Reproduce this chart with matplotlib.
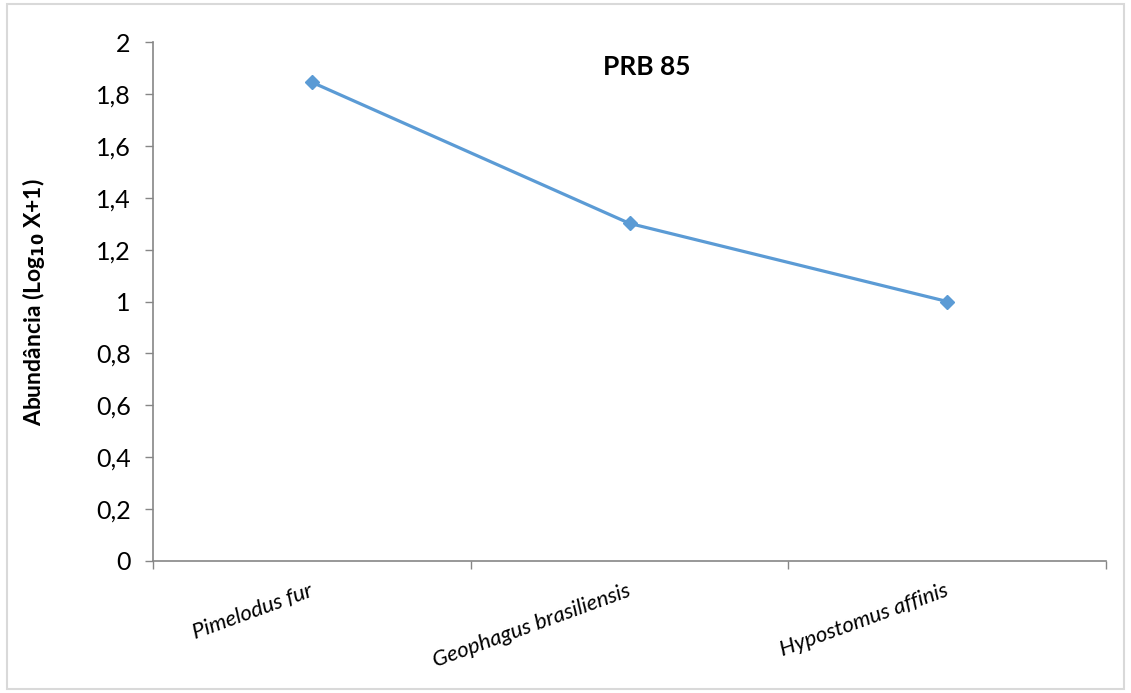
import matplotlib
matplotlib.use("Agg")
import matplotlib.pyplot as plt
from matplotlib.patches import Rectangle

categories = ["Pimelodus fur", "Geophagus brasiliensis", "Hypostomus affinis"]
values = [1.845, 1.301, 1.0]
yticks = [0, 0.2, 0.4, 0.6, 0.8, 1.0, 1.2, 1.4, 1.6, 1.8, 2.0]
ytick_labels = ["0", "0,2", "0,4", "0,6", "0,8", "1", "1,2", "1,4", "1,6", "1,8", "2"]
title = "PRB 85"

plt.rcParams['font.family'] = ['Lato', 'DejaVu Sans']

W, H = 1131, 693
fig = plt.figure(figsize=(W / 100, H / 100), dpi=100)
ax = fig.add_axes([153 / W, 1 - 561 / H, (1106 - 153) / W, (561 - 42) / H])

x = list(range(len(categories)))
ax.plot(x, values, color="#5B9BD5", lw=2.3, marker="D", ms=7, mec="#5B9BD5", mfc="#5B9BD5")

ax.set_xlim(-0.5, len(categories) - 0.5)
ax.set_ylim(0, 2)
ax.set_yticks(yticks)
ax.set_yticklabels(ytick_labels, fontsize=18)
ax.tick_params(axis="y", direction="out", length=6, width=1, color="#868686", pad=10)

ax.set_xticks(x)
ax.set_xticklabels(categories, fontsize=16, style="italic", rotation=20,
                   ha="right", va="center", rotation_mode="anchor")
ax.tick_params(axis="x", which="major", length=0, pad=21)
ax.set_xticks([i - 0.5 for i in range(len(categories) + 1)], minor=True)
ax.tick_params(axis="x", which="minor", direction="out", length=6, width=1, color="#868686")

for s in ["top", "right"]:
    ax.spines[s].set_visible(False)
for s in ["left", "bottom"]:
    ax.spines[s].set_color("#868686")
    ax.spines[s].set_linewidth(1.2)

ax.set_ylabel(r"Abundância (Log$_{\mathbf{10}}$ X+1)", fontsize=16.5, fontweight="bold")
ax.yaxis.set_label_coords(47 / W, 1 - 302 / H, transform=fig.transFigure)

fig.text(647 / W, 1 - 67 / H, title, fontsize=19, fontweight="bold", ha="center", va="center")

fig.patches.append(Rectangle((7 / W, 4 / H), (1124 - 7) / W, (689 - 4) / H,
                             transform=fig.transFigure, fill=False,
                             edgecolor="#D9D9D9", lw=1.5))

fig.savefig("out.png", dpi=100)
